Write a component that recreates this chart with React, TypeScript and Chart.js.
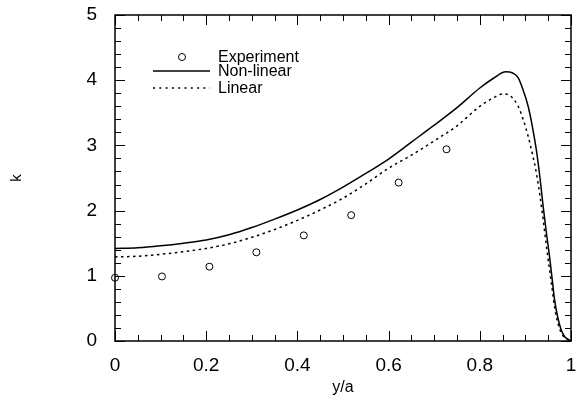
import React, { useEffect, useRef } from 'react';
import { Chart, registerables } from 'chart.js';
Chart.register(...registerables);

const seriesLabels = ['Experiment', 'Non-linear', 'Linear'];
const xTitle = 'y/a';
const yTitle = 'k';
const xTickLabels = ['0', '0.2', '0.4', '0.6', '0.8', '1'];
const yTickLabels = ['0', '1', '2', '3', '4', '5'];

const expX = [0, 0.103, 0.207, 0.31, 0.414, 0.518, 0.622, 0.727];
const expY = [0.97, 0.99, 1.14, 1.36, 1.62, 1.93, 2.43, 2.94];

const nonLinX = [0, 0.05, 0.1, 0.15, 0.2, 0.25, 0.3, 0.35, 0.4, 0.45, 0.5, 0.55, 0.6, 0.65, 0.7, 0.75, 0.8, 0.83, 0.857, 0.872, 0.884, 0.895, 0.906, 0.915, 0.924, 0.932, 0.939, 0.946, 0.953, 0.959, 0.964, 0.971, 0.979, 0.986, 0.993, 1.0];
const nonLinY = [1.42, 1.43, 1.46, 1.5, 1.55, 1.63, 1.74, 1.87, 2.01, 2.17, 2.36, 2.57, 2.79, 3.05, 3.31, 3.58, 3.88, 4.03, 4.13, 4.11, 4.04, 3.85, 3.6, 3.3, 2.93, 2.5, 2.06, 1.66, 1.29, 0.93, 0.63, 0.36, 0.16, 0.07, 0.03, 0.0];

const linX = [0, 0.05, 0.1, 0.15, 0.2, 0.25, 0.3, 0.35, 0.4, 0.45, 0.5, 0.55, 0.6, 0.65, 0.7, 0.75, 0.8, 0.83, 0.851, 0.867, 0.884, 0.895, 0.906, 0.915, 0.924, 0.932, 0.939, 0.946, 0.953, 0.959, 0.964, 0.971, 0.979, 0.986, 0.993, 1.0];
const linY = [1.29, 1.3, 1.33, 1.37, 1.42, 1.49, 1.59, 1.71, 1.85, 2.01, 2.19, 2.41, 2.65, 2.85, 3.07, 3.3, 3.6, 3.73, 3.79, 3.76, 3.6, 3.4, 3.14, 2.88, 2.58, 2.22, 1.86, 1.46, 1.09, 0.78, 0.52, 0.28, 0.12, 0.05, 0.02, 0.0];

const FONT = "'Liberation Sans', Arial, Helvetica, sans-serif";

const zip = (xs: number[], ys: number[]) => xs.map((x, i) => ({ x, y: ys[i] }));

const framePlugin = {
  id: 'frame',
  afterDatasetsDraw(chart: any) {
    const { ctx, chartArea, scales } = chart;
    const { left, right, top, bottom } = chartArea;
    const xs = scales.x;
    const ys = scales.y;
    ctx.save();
    ctx.strokeStyle = '#000';
    ctx.lineWidth = 1;
    ctx.beginPath();
    for (let i = 0; i <= 20; i++) {
      const px = Math.round(xs.getPixelForValue(i * 0.05)) + 0.5;
      const len = i % 4 === 0 ? 10 : 6;
      ctx.moveTo(px, bottom);
      ctx.lineTo(px, bottom - len);
      ctx.moveTo(px, top);
      ctx.lineTo(px, top + len);
    }
    for (let i = 0; i <= 25; i++) {
      const py = Math.round(ys.getPixelForValue(i * 0.2)) + 0.5;
      const len = i % 5 === 0 ? 10 : 6;
      ctx.moveTo(left, py);
      ctx.lineTo(left + len, py);
      ctx.moveTo(right, py);
      ctx.lineTo(right - len, py);
    }
    ctx.stroke();
    ctx.lineWidth = 1.5;
    ctx.strokeRect(left, top, right - left, bottom - top);
    ctx.restore();
  },
};

const legendPlugin = {
  id: 'customLegend',
  afterDraw(chart: any) {
    const { ctx, chartArea } = chart;
    const { left, top } = chartArea;
    const lineX0 = left + 38;
    const lineX1 = left + 95;
    const textX = left + 103;
    const rows = [top + 42, top + 56, top + 73];
    ctx.save();
    ctx.strokeStyle = '#000';
    ctx.fillStyle = '#000';
    ctx.lineWidth = 1;
    ctx.beginPath();
    ctx.arc(left + 67, rows[0], 3.5, 0, Math.PI * 2);
    ctx.stroke();
    ctx.lineWidth = 1.5;
    ctx.beginPath();
    ctx.moveTo(lineX0, rows[1]);
    ctx.lineTo(lineX1, rows[1]);
    ctx.stroke();
    ctx.setLineDash([2, 4.3]);
    ctx.beginPath();
    ctx.moveTo(lineX0, rows[2]);
    ctx.lineTo(lineX1, rows[2]);
    ctx.stroke();
    ctx.setLineDash([]);
    ctx.font = `16px ${FONT}`;
    ctx.textBaseline = 'middle';
    ctx.textAlign = 'left';
    seriesLabels.forEach((t, i) => ctx.fillText(t, textX, rows[i] + 1));
    ctx.restore();
  },
};

export default function App() {
  const ref = useRef<HTMLCanvasElement | null>(null);
  useEffect(() => {
    document.body.style.margin = '0';
    const canvas = ref.current;
    if (!canvas) return;
    const chart = new Chart(canvas, {
      type: 'scatter',
      data: {
        datasets: [
          {
            label: seriesLabels[1],
            data: zip(nonLinX, nonLinY),
            showLine: true,
            borderColor: '#000',
            borderWidth: 1.5,
            pointRadius: 0,
            cubicInterpolationMode: 'monotone',
            fill: false,
          },
          {
            label: seriesLabels[2],
            data: zip(linX, linY),
            showLine: true,
            borderColor: '#000',
            borderWidth: 1.5,
            borderDash: [2.5, 3.5],
            pointRadius: 0,
            cubicInterpolationMode: 'monotone',
            fill: false,
          },
          {
            label: seriesLabels[0],
            data: zip(expX, expY),
            showLine: false,
            pointStyle: 'circle',
            pointRadius: 3.5,
            pointBorderWidth: 1,
            borderColor: '#000',
            pointBorderColor: '#000',
            pointBackgroundColor: 'rgba(255,255,255,0)',
            backgroundColor: 'rgba(255,255,255,0)',
            clip: false,
          } as any,
        ],
      },
      options: {
        responsive: false,
        animation: false,
        layout: { padding: { left: 0, right: 1, top: 15, bottom: 0 } },
        plugins: {
          legend: { display: false },
          tooltip: { enabled: false },
        },
        scales: {
          x: {
            type: 'linear',
            min: 0,
            max: 1,
            grid: { display: false, drawTicks: false },
            border: { display: false },
            ticks: {
              stepSize: 0.2,
              padding: 13,
              color: '#000',
              font: { family: FONT, size: 19 },
              maxRotation: 0,
              callback: (v: any) => {
                const i = Math.round(Number(v) / 0.2);
                return xTickLabels[i] ?? '';
              },
            },
            title: {
              display: true,
              text: xTitle,
              color: '#000',
              font: { family: FONT, size: 16 },
              padding: { top: 0, bottom: 4 },
            },
            afterFit: (s: any) => {
              s.height = 60;
              s.paddingLeft = 0;
              s.paddingRight = 0;
            },
          },
          y: {
            type: 'linear',
            min: 0,
            max: 5,
            grid: { display: false, drawTicks: false },
            border: { display: false },
            ticks: {
              stepSize: 1,
              padding: 18,
              color: '#000',
              font: { family: FONT, size: 19 },
              callback: (v: any) => yTickLabels[Math.round(Number(v))] ?? '',
            },
            title: {
              display: true,
              text: yTitle,
              color: '#000',
              font: { family: FONT, size: 15 },
              padding: { top: 8, bottom: 0 },
            },
            afterFit: (s: any) => {
              s.width = 115;
              s.paddingTop = 0;
              s.paddingBottom = 0;
            },
          },
        },
      },
      plugins: [framePlugin, legendPlugin],
    });
    return () => chart.destroy();
  }, []);
  return (
    <div style={{ width: 576, height: 401 }}>
      <canvas ref={ref} width={576} height={401} style={{ display: 'block' }} />
    </div>
  );
}
